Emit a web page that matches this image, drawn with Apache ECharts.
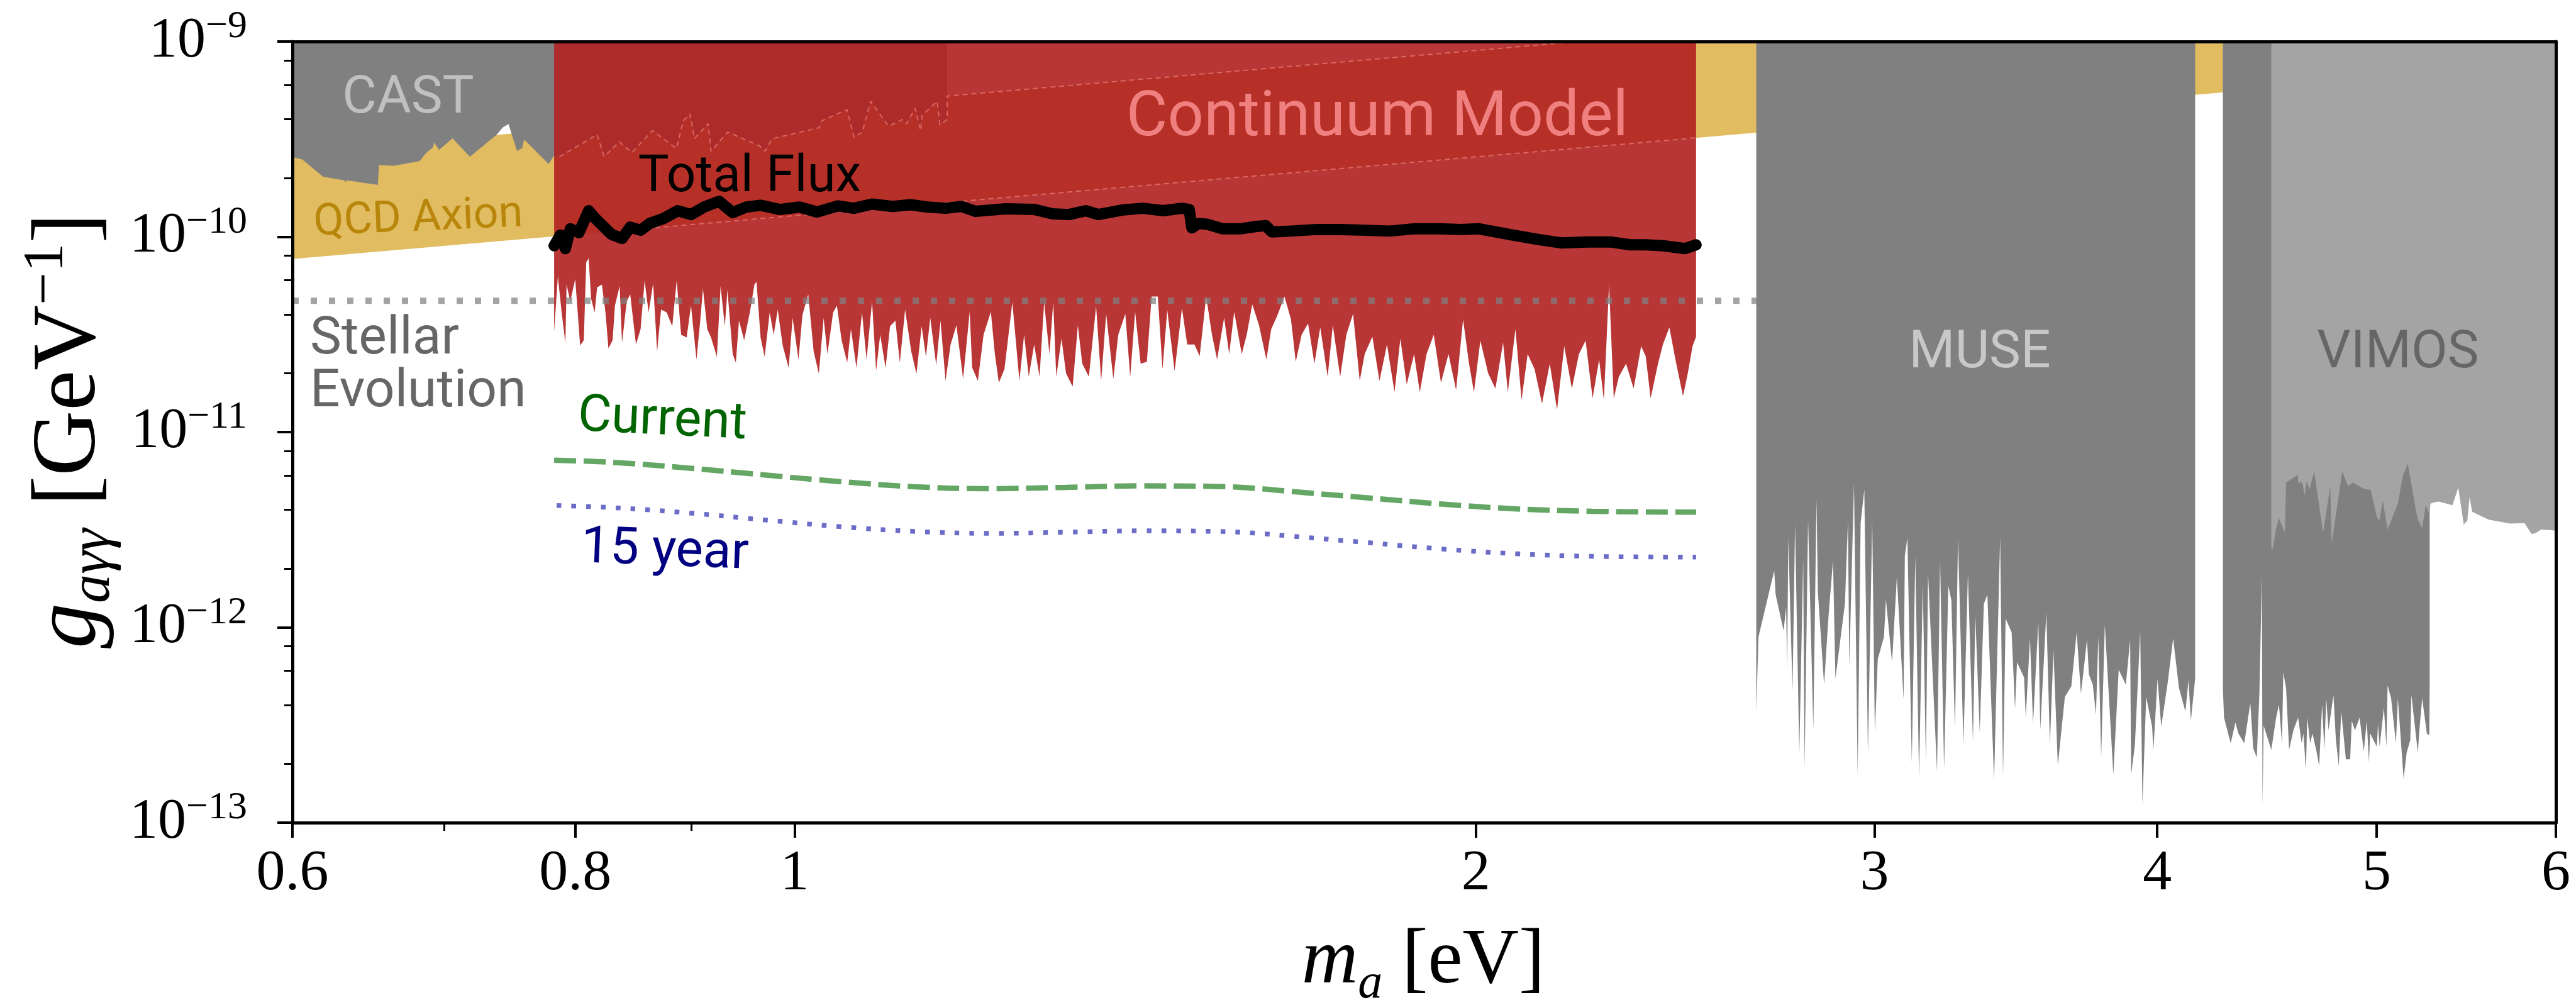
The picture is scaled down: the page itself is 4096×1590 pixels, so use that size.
<!DOCTYPE html>
<html>
<head>
<meta charset="utf-8">
<script src="https://cdn.jsdelivr.net/npm/echarts@6/dist/echarts.min.js"></script>
<style>
  html, body { margin: 0; padding: 0; background: #fff; }
  #chart { width: 4096px; height: 1590px; }
</style>
</head>
<body>
<div id="chart"></div>
<script>
// ---- axis ticks ----
const xTickLabels = [0.6, 0.8, 1, 2, 3, 4, 5, 6];
const xMinorTicks = [0.7, 0.9];
const yTickExps = [-13, -12, -11, -10, -9];
const yMinorMant = [2, 4, 6, 8];

// ---- QCD axion band edges [m (eV), g (GeV^-1)] ----
const qcdLower = [[0.6, 7.7e-11], [6, 7.7e-10]];
const qcdUpper = [[0.6, 2.7e-10], [6, 2.7e-9]];

// ---- CAST limit (excluded above) ----
const castLimit = [
  [0.600, 2.56e-10], [0.606, 2.49e-10], [0.619, 2.03e-10], [0.6325, 1.945e-10], [0.6334, 1.91e-10],
  [0.6342, 1.945e-10], [0.6545, 1.845e-10], [0.6552, 2.33e-10], [0.6655, 2.31e-10], [0.683, 2.445e-10],
  [0.6873, 2.68e-10], [0.6923, 2.88e-10], [0.693, 3.04e-10], [0.6966, 2.79e-10], [0.7061, 3.19e-10],
  [0.7187, 2.57e-10], [0.7385, 3.33e-10], [0.7431, 3.63e-10], [0.7475, 3.78e-10], [0.754, 2.75e-10],
  [0.758, 2.85e-10], [0.7595, 3.15e-10], [0.7786, 2.36e-10], [0.7827, 2.59e-10], [0.7873, 2.57e-10],
  [0.818, 3.34e-10], [0.8239, 2.57e-10], [0.8367, 3.07e-10], [0.8474, 2.70e-10], [0.8655, 3.50e-10],
  [0.8867, 2.83e-10], [0.8929, 3.93e-10], [0.8992, 4.26e-10], [0.9031, 3.18e-10], [0.9159, 3.80e-10],
  [0.9185, 2.74e-10], [0.9342, 3.44e-10], [0.965, 2.92e-10], [0.9704, 2.74e-10], [0.9774, 3.18e-10],
  [1.0254, 3.62e-10], [1.0283, 3.93e-10], [1.0548, 4.48e-10], [1.0623, 3.23e-10], [1.0713, 3.44e-10],
  [1.0804, 4.94e-10], [1.1004, 3.68e-10], [1.1161, 3.99e-10], [1.1209, 3.80e-10], [1.1304, 4.55e-10],
  [1.1369, 3.50e-10], [1.1385, 4.19e-10], [1.1562, 4.94e-10], [1.1594, 3.74e-10], [1.168, 3.99e-10]
];

// ---- Total-flux exclusion, lower edge (excluded above) ----
const fluxRegion = [
  [0.783, 3.26e-11], [0.786, 6.27e-11], [0.789, 4.10e-11], [0.792, 2.86e-11], [0.793, 5.69e-11],
  [0.796, 4.67e-11], [0.800, 6.07e-11], [0.804, 2.77e-11], [0.807, 2.95e-11], [0.809, 7.39e-11],
  [0.811, 7.76e-11], [0.813, 4.83e-11], [0.816, 4.10e-11], [0.818, 5.50e-11], [0.822, 5.69e-11],
  [0.825, 4.10e-11], [0.8275, 2.68e-11], [0.831, 2.95e-11], [0.833, 4.45e-11], [0.837, 5.60e-11],
  [0.839, 2.86e-11], [0.843, 4.67e-11], [0.846, 5.07e-11], [0.851, 2.81e-11], [0.855, 3.37e-11],
  [0.8585, 5.97e-11], [0.862, 4.10e-11], [0.866, 5.78e-11], [0.8695, 2.59e-11], [0.873, 4.24e-11],
  [0.878, 4.10e-11], [0.883, 3.48e-11], [0.887, 5.97e-11], [0.891, 3.15e-11], [0.896, 3.05e-11],
  [0.900, 4.45e-11], [0.905, 2.35e-11], [0.9085, 3.72e-11], [0.911, 5.41e-11], [0.915, 3.37e-11],
  [0.9185, 3.05e-11], [0.924, 2.43e-11], [0.9275, 5.60e-11], [0.9315, 3.48e-11], [0.934, 5.33e-11],
  [0.939, 2.51e-11], [0.942, 2.27e-11], [0.945, 3.72e-11], [0.950, 2.95e-11], [0.9555, 4.10e-11],
  [0.960, 5.69e-11], [0.962, 5.88e-11], [0.966, 3.05e-11], [0.970, 2.43e-11], [0.975, 4.10e-11],
  [0.979, 3.15e-11], [0.983, 4.24e-11], [0.988, 2.77e-11], [0.994, 2.13e-11], [0.998, 3.84e-11],
  [1.004, 2.35e-11], [1.008, 3.97e-11], [1.014, 5.07e-11], [1.0196, 2.59e-11], [1.025, 1.99e-11],
  [1.030, 3.84e-11], [1.034, 2.51e-11], [1.040, 4.10e-11], [1.044, 4.45e-11], [1.049, 2.95e-11],
  [1.055, 2.27e-11], [1.059, 3.37e-11], [1.065, 2.13e-11], [1.071, 4.10e-11], [1.076, 2.35e-11],
  [1.082, 4.67e-11], [1.0865, 2.06e-11], [1.091, 3.15e-11], [1.097, 2.13e-11], [1.102, 3.48e-11],
  [1.108, 3.72e-11], [1.113, 2.27e-11], [1.119, 4.24e-11], [1.126, 2.59e-11], [1.132, 1.99e-11],
  [1.138, 3.48e-11], [1.143, 2.43e-11], [1.148, 3.84e-11], [1.155, 2.20e-11], [1.160, 3.72e-11],
  [1.166, 1.83e-11], [1.172, 2.81e-11], [1.179, 3.52e-11], [1.187, 1.87e-11], [1.195, 4.13e-11],
  [1.198, 2.14e-11], [1.205, 1.83e-11], [1.212, 3.15e-11], [1.221, 4.13e-11], [1.226, 2.51e-11],
  [1.231, 1.79e-11], [1.238, 2.10e-11], [1.248, 4.62e-11], [1.257, 1.83e-11], [1.263, 3.15e-11],
  [1.269, 1.92e-11], [1.276, 2.81e-11], [1.283, 1.92e-11], [1.289, 4.62e-11], [1.296, 2.51e-11],
  [1.301, 4.62e-11], [1.305, 1.92e-11], [1.312, 3.01e-11], [1.318, 2.00e-11], [1.327, 1.71e-11],
  [1.334, 3.52e-11], [1.340, 2.24e-11], [1.349, 1.92e-11], [1.359, 4.41e-11], [1.366, 1.83e-11],
  [1.373, 4.03e-11], [1.383, 1.87e-11], [1.390, 3.15e-11], [1.400, 4.03e-11], [1.407, 1.92e-11],
  [1.414, 4.13e-11], [1.422, 2.24e-11], [1.431, 2.29e-11], [1.438, 4.94e-11], [1.447, 4.94e-11],
  [1.454, 2.10e-11], [1.461, 4.22e-11], [1.472, 2.05e-11], [1.483, 4.31e-11], [1.491, 2.81e-11],
  [1.502, 2.81e-11], [1.510, 2.45e-11], [1.520, 4.94e-11], [1.529, 3.15e-11], [1.537, 2.35e-11],
  [1.548, 3.85e-11], [1.556, 2.51e-11], [1.564, 4.13e-11], [1.576, 2.51e-11], [1.584, 3.15e-11],
  [1.593, 4.51e-11], [1.604, 3.52e-11], [1.616, 2.35e-11], [1.624, 3.37e-11], [1.634, 3.94e-11],
  [1.646, 4.94e-11], [1.657, 3.77e-11], [1.665, 2.29e-11], [1.675, 3.15e-11], [1.686, 3.60e-11],
  [1.697, 2.24e-11], [1.707, 3.44e-11], [1.720, 1.92e-11], [1.729, 3.52e-11], [1.742, 1.92e-11],
  [1.753, 3.15e-11], [1.765, 4.03e-11], [1.777, 1.83e-11], [1.786, 2.51e-11], [1.800, 3.08e-11],
  [1.813, 1.83e-11], [1.827, 2.81e-11], [1.841, 1.60e-11], [1.852, 3.01e-11], [1.864, 1.75e-11],
  [1.878, 2.51e-11], [1.889, 1.60e-11], [1.902, 2.51e-11], [1.916, 3.15e-11], [1.930, 1.79e-11],
  [1.945, 2.51e-11], [1.960, 1.64e-11], [1.974, 3.77e-11], [1.986, 2.24e-11], [1.996, 1.60e-11],
  [2.009, 2.94e-11], [2.025, 2.00e-11], [2.040, 1.67e-11], [2.056, 2.87e-11], [2.066, 1.60e-11],
  [2.082, 3.37e-11], [2.095, 1.46e-11], [2.108, 2.51e-11], [2.123, 2.10e-11], [2.139, 1.40e-11],
  [2.156, 2.24e-11], [2.172, 1.30e-11], [2.188, 2.75e-11], [2.205, 1.67e-11], [2.221, 2.51e-11],
  [2.236, 2.94e-11], [2.252, 1.49e-11], [2.267, 2.35e-11], [2.278, 1.46e-11], [2.290, 5.66e-11],
  [2.301, 1.49e-11], [2.313, 1.92e-11], [2.330, 2.24e-11], [2.348, 1.67e-11], [2.366, 2.75e-11],
  [2.377, 2.45e-11], [2.389, 1.49e-11], [2.407, 2.24e-11], [2.419, 2.81e-11], [2.435, 3.44e-11],
  [2.450, 2.35e-11], [2.469, 1.53e-11], [2.481, 2.00e-11], [2.493, 2.75e-11], [2.502, 3.08e-11]
];

// ---- Total flux limit line ----
const totalFlux = [
  [0.783, 9.0e-11], [0.788, 1.02e-10], [0.792, 8.7e-11], [0.796, 1.10e-10], [0.803, 1.05e-10],
  [0.811, 1.36e-10], [0.816, 1.25e-10], [0.822, 1.15e-10], [0.830, 1.03e-10], [0.839, 9.8e-11],
  [0.846, 1.12e-10], [0.855, 1.08e-10], [0.863, 1.17e-10], [0.875, 1.24e-10], [0.888, 1.36e-10],
  [0.900, 1.30e-10], [0.912, 1.42e-10], [0.926, 1.52e-10], [0.939, 1.33e-10], [0.952, 1.42e-10],
  [0.966, 1.45e-10], [0.985, 1.38e-10], [1.005, 1.42e-10], [1.023, 1.34e-10], [1.045, 1.44e-10],
  [1.062, 1.40e-10], [1.082, 1.47e-10], [1.105, 1.43e-10], [1.125, 1.46e-10], [1.145, 1.42e-10],
  [1.166, 1.40e-10], [1.185, 1.43e-10], [1.202, 1.35e-10], [1.240, 1.39e-10], [1.276, 1.38e-10],
  [1.300, 1.31e-10], [1.322, 1.30e-10], [1.345, 1.36e-10], [1.362, 1.30e-10], [1.395, 1.37e-10],
  [1.425, 1.40e-10], [1.455, 1.36e-10], [1.483, 1.40e-10], [1.494, 1.38e-10], [1.498, 1.11e-10],
  [1.508, 1.17e-10], [1.521, 1.16e-10], [1.545, 1.10e-10], [1.575, 1.10e-10], [1.600, 1.13e-10],
  [1.615, 1.14e-10], [1.625, 1.06e-10], [1.657, 1.07e-10], [1.700, 1.09e-10], [1.742, 1.09e-10],
  [1.790, 1.08e-10], [1.832, 1.07e-10], [1.880, 1.10e-10], [1.926, 1.10e-10], [1.970, 1.09e-10],
  [2.005, 1.10e-10], [2.040, 1.06e-10], [2.077, 1.02e-10], [2.130, 9.7e-11], [2.183, 9.3e-11],
  [2.240, 9.4e-11], [2.295, 9.4e-11], [2.340, 9.1e-11], [2.377, 9.1e-11], [2.420, 9.0e-11],
  [2.474, 8.7e-11], [2.502, 9.1e-11]
];

// ---- projected sensitivities ----
const currentReach = [
  [0.783, 7.18e-12], [0.832, 6.99e-12], [0.899, 6.53e-12], [0.970, 6.03e-12], [1.047, 5.58e-12],
  [1.130, 5.25e-12], [1.220, 5.13e-12], [1.317, 5.21e-12], [1.422, 5.30e-12], [1.536, 5.27e-12],
  [1.596, 5.16e-12], [1.658, 4.96e-12], [1.789, 4.61e-12], [1.932, 4.28e-12], [2.086, 4.04e-12],
  [2.252, 3.93e-12], [2.502, 3.89e-12]
];
const fifteenYear = [
  [0.785, 4.21e-12], [0.832, 4.10e-12], [0.899, 3.85e-12], [0.970, 3.55e-12], [1.047, 3.28e-12],
  [1.130, 3.10e-12], [1.220, 3.03e-12], [1.317, 3.07e-12], [1.422, 3.12e-12], [1.536, 3.10e-12],
  [1.596, 3.04e-12], [1.658, 2.93e-12], [1.789, 2.72e-12], [1.932, 2.52e-12], [2.086, 2.38e-12],
  [2.252, 2.31e-12], [2.502, 2.29e-12]
];

// ---- stellar evolution bound ----
const stellarBound = [[0.6, 4.7e-11], [2.661, 4.7e-11]];

// ---- MUSE limit (excluded above) ----
const museLimit = [
  [2.660, 3.70e-13], [2.666, 8.95e-13], [2.709, 1.95e-12], [2.713, 1.47e-12], [2.735, 9.6e-13],
  [2.742, 1.27e-12], [2.745, 6.07e-13], [2.748, 2.87e-12], [2.760, 4.74e-13], [2.767, 3.37e-12],
  [2.779, 2.25e-13], [2.790, 2.24e-12], [2.794, 1.89e-13], [2.804, 3.55e-12], [2.819, 2.99e-13],
  [2.828, 4.55e-12], [2.832, 1.52e-12], [2.850, 5.08e-13], [2.863, 1.15e-12], [2.876, 2.20e-12],
  [2.883, 5.45e-13], [2.911, 1.32e-12], [2.920, 3.49e-12], [2.924, 6.28e-13], [2.938, 5.43e-12],
  [2.949, 1.76e-13], [2.958, 3.43e-12], [2.969, 5.06e-12], [2.980, 2.25e-13], [2.993, 3.49e-12],
  [3.001, 2.89e-13], [3.010, 6.87e-13], [3.029, 8.95e-13], [3.035, 1.39e-12], [3.054, 6.63e-13],
  [3.069, 1.81e-12], [3.090, 4.26e-13], [3.094, 2.32e-12], [3.102, 2.87e-12], [3.116, 2.03e-13],
  [3.127, 2.32e-12], [3.139, 1.70e-13], [3.151, 1.66e-12], [3.161, 2.03e-13], [3.168, 1.88e-12],
  [3.197, 1.82e-13], [3.207, 2.20e-12], [3.220, 1.89e-13], [3.234, 1.63e-12], [3.244, 1.37e-12],
  [3.256, 2.99e-13], [3.266, 2.87e-12], [3.284, 2.51e-13], [3.299, 1.88e-12], [3.316, 2.60e-13],
  [3.324, 1.15e-12], [3.339, 2.89e-13], [3.353, 1.32e-12], [3.365, 1.47e-12], [3.388, 1.64e-13],
  [3.409, 2.87e-12], [3.419, 1.70e-13], [3.428, 1.11e-12], [3.449, 9.43e-13], [3.461, 3.83e-13],
  [3.468, 6.63e-13], [3.493, 5.55e-13], [3.499, 3.45e-13], [3.514, 8.79e-13], [3.525, 3.21e-13],
  [3.544, 1.07e-12], [3.551, 2.99e-13], [3.573, 1.19e-12], [3.586, 2.51e-13], [3.599, 7.63e-13],
  [3.615, 1.96e-13], [3.641, 4.41e-13], [3.665, 4.99e-13], [3.685, 9.43e-13], [3.701, 4.57e-13],
  [3.724, 8.64e-13], [3.731, 5.75e-13], [3.746, 5.08e-13], [3.758, 3.57e-13], [3.767, 8.95e-13],
  [3.778, 2.18e-13], [3.792, 1.03e-12], [3.825, 1.76e-13], [3.846, 6.07e-13], [3.874, 5.08e-13],
  [3.891, 8.64e-13], [3.895, 1.76e-13], [3.910, 2.51e-13], [3.931, 9.60e-13], [3.940, 1.24e-13],
  [3.955, 4.41e-13], [3.979, 3.10e-13], [3.984, 2.34e-13], [4.001, 5.45e-13], [4.016, 3.10e-13],
  [4.043, 5.27e-13], [4.065, 8.79e-13], [4.089, 4.91e-13], [4.116, 3.70e-13], [4.129, 5.36e-13],
  [4.139, 3.33e-13], [4.157, 5.45e-13]
];

// ---- VIMOS limits (excluded above) ----
const vimosDeep = [
  [4.276, 4.86e-13], [4.281, 3.45e-13], [4.310, 2.55e-13], [4.331, 3.26e-13], [4.344, 2.86e-13],
  [4.370, 2.55e-13], [4.397, 4.09e-13], [4.410, 2.41e-13], [4.426, 2.15e-13], [4.438, 4.68e-13],
  [4.449, 1.83e-12], [4.452, 1.22e-13], [4.457, 3.14e-13], [4.492, 2.36e-13], [4.514, 3.45e-13],
  [4.527, 4.02e-13], [4.541, 2.55e-13], [4.547, 5.87e-13], [4.560, 4.86e-13], [4.574, 2.36e-13],
  [4.594, 2.97e-13], [4.616, 3.45e-13], [4.633, 2.55e-13], [4.641, 2.86e-13], [4.653, 1.85e-13],
  [4.659, 3.45e-13], [4.673, 2.55e-13], [4.684, 2.86e-13], [4.703, 2.32e-13], [4.716, 1.95e-13],
  [4.730, 4.02e-13], [4.741, 2.36e-13], [4.750, 4.33e-13], [4.761, 2.97e-13], [4.785, 4.50e-13],
  [4.797, 2.65e-13], [4.811, 1.95e-13], [4.823, 3.72e-13], [4.846, 2.11e-13], [4.867, 2.11e-13],
  [4.875, 3.32e-13], [4.891, 2.97e-13], [4.914, 3.45e-13], [4.935, 2.32e-13], [4.950, 3.32e-13],
  [4.961, 2.03e-13], [4.967, 2.86e-13], [5.001, 2.45e-13], [5.007, 3.20e-13], [5.015, 2.45e-13],
  [5.037, 3.87e-13], [5.050, 2.45e-13], [5.056, 5.04e-13], [5.074, 4.33e-13], [5.099, 2.55e-13],
  [5.109, 4.33e-13], [5.139, 1.68e-13], [5.155, 2.28e-13], [5.174, 2.65e-13], [5.180, 4.50e-13],
  [5.214, 2.28e-13], [5.222, 2.97e-13], [5.237, 4.33e-13], [5.262, 2.86e-13], [5.275, 2.80e-13],
  [5.277, 4.86e-13]
];
const vimosWide = [
  [4.492, 2.53e-12], [4.499, 2.53e-12], [4.514, 3.23e-12], [4.527, 3.62e-12], [4.554, 3.05e-12],
  [4.560, 5.50e-12], [4.614, 6.05e-12], [4.618, 5.40e-12], [4.627, 5.61e-12], [4.638, 5.40e-12],
  [4.646, 4.73e-12], [4.657, 5.61e-12], [4.670, 5.10e-12], [4.692, 6.28e-12], [4.735, 3.05e-12],
  [4.770, 5.29e-12], [4.776, 2.68e-12], [4.828, 6.28e-12], [4.857, 5.29e-12], [4.881, 5.50e-12],
  [4.940, 5.10e-12], [4.970, 5.06e-12], [5.001, 3.69e-12], [5.013, 3.49e-12], [5.031, 4.46e-12],
  [5.056, 3.17e-12], [5.109, 4.30e-12], [5.134, 5.93e-12], [5.161, 6.90e-12], [5.205, 3.91e-12],
  [5.218, 3.49e-12], [5.237, 3.23e-12], [5.256, 4.22e-12], [5.277, 3.76e-12], [5.281, 4.30e-12],
  [5.307, 4.38e-12], [5.326, 4.41e-12], [5.401, 4.22e-12], [5.433, 5.20e-12], [5.463, 3.36e-12],
  [5.483, 3.52e-12], [5.496, 4.64e-12], [5.510, 3.91e-12], [5.604, 3.56e-12], [5.727, 3.40e-12],
  [5.811, 3.42e-12], [5.854, 3.00e-12], [5.882, 3.05e-12], [5.910, 3.17e-12], [5.982, 3.14e-12],
  [6.0, 3.11e-12]
];

// ---- helpers ----
const lg = (v) => Math.log10(v);
const toXY = (pts) => pts.map((p) => [lg(p[0]), lg(p[1])]);
const SERIF = '"Liberation Serif", "DejaVu Serif", serif';
const SANS = 'Roboto, "Open Sans", sans-serif';

function areaUp(name, pts, color) {
  return {
    type: 'line', name: name, data: toXY(pts), symbol: 'none', silent: true,
    lineStyle: { width: 0 },
    areaStyle: { color: color, opacity: 1, origin: 'end' }
  };
}
function curve(name, pts, style, smooth) {
  return {
    type: 'line', name: name, data: toXY(pts), symbol: 'none', silent: true,
    smooth: smooth || false, lineStyle: style
  };
}
function label(text, x, y, size, color, extra) {
  const el = {
    type: 'text', x: x, y: y, z: 100,
    style: { text: text, font: size + 'px ' + SANS, fill: color, textAlign: 'center', textVerticalAlign: 'middle' }
  };
  if (extra && extra.rotation) el.rotation = extra.rotation;
  if (extra && extra.align) el.style.textAlign = extra.align;
  return el;
}

// continuum model outline: CAST edge inside the red region, then upper band edge
const contUpper = castLimit.filter((p) => p[0] >= 0.783)
  .concat([[1.168, 1.168 * 4.5e-10], [2.502, 2.502 * 4.5e-10]]);
const contLower = [[0.86, 0.86 * 1.283e-10], [2.502, 2.502 * 1.283e-10]];

const yMinor = [];
yTickExps.slice(0, -1).forEach((e) => yMinorMant.forEach((m) => yMinor.push(e + lg(m))));

const chart = echarts.init(document.getElementById('chart'));

const xBase = { type: 'value', min: lg(0.6), max: lg(6), gridIndex: 0, z: 10, splitLine: { show: false } };
const yBase = { type: 'value', min: -13, max: -9, gridIndex: 0, z: 10, splitLine: { show: false } };
const spine = { show: true, onZero: false, lineStyle: { color: '#000', width: 5 } };

const option = {
  animation: false,
  backgroundColor: '#fff',
  grid: { left: 465, right: 32, top: 66, height: 1242, containLabel: false },
  xAxis: [
    Object.assign({}, xBase, {
      position: 'bottom',
      axisLine: spine,
      axisTick: { show: true, length: 24, lineStyle: { color: '#000', width: 4 }, customValues: xTickLabels.map(lg) },
      axisLabel: {
        show: true, customValues: xTickLabels.map(lg), margin: 36,
        fontFamily: SERIF, fontSize: 92, color: '#000',
        formatter: (v) => String(parseFloat(Math.pow(10, v).toFixed(2)))
      }
    }),
    Object.assign({}, xBase, {
      position: 'bottom',
      axisLine: { show: false, onZero: false },
      axisTick: { show: true, length: 13, lineStyle: { color: '#000', width: 3 }, customValues: xMinorTicks.map(lg) },
      axisLabel: { show: false }
    }),
    Object.assign({}, xBase, {
      position: 'top',
      axisLine: spine,
      axisTick: { show: false }, axisLabel: { show: false }
    })
  ],
  yAxis: [
    Object.assign({}, yBase, {
      position: 'left',
      axisLine: spine,
      axisTick: { show: true, length: 24, lineStyle: { color: '#000', width: 4 }, customValues: yTickExps },
      axisLabel: {
        show: true, customValues: yTickExps, margin: 72,
        formatter: (v) => '{b|10}{s|\u2212' + Math.abs(Math.round(v)) + '}',
        rich: {
          b: { fontFamily: SERIF, fontSize: 90, color: '#000', lineHeight: 108 },
          s: { fontFamily: SERIF, fontSize: 62, color: '#000', lineHeight: 60, verticalAlign: 'top' }
        }
      }
    }),
    Object.assign({}, yBase, {
      position: 'left',
      axisLine: { show: false, onZero: false },
      axisTick: { show: true, length: 13, lineStyle: { color: '#000', width: 3 }, customValues: yMinor },
      axisLabel: { show: false }
    }),
    Object.assign({}, yBase, {
      position: 'right',
      axisLine: spine,
      axisTick: { show: false }, axisLabel: { show: false }
    })
  ],
  series: [
    areaUp('QCD band', qcdLower, '#E1BC60'),
    areaUp('above QCD band', qcdUpper, '#FFFFFF'),
    areaUp('CAST', castLimit, '#808080'),
    areaUp('Total flux region', fluxRegion, 'rgba(178,34,34,0.91)'),
    curve('Continuum upper', contUpper, { color: 'rgba(244,150,150,0.55)', width: 2, type: [8, 6] }),
    curve('Continuum lower', contLower, { color: 'rgba(244,150,150,0.55)', width: 2, type: [8, 6] }),
    areaUp('MUSE', museLimit, '#808080'),
    areaUp('VIMOS deep', vimosDeep, '#808080'),
    areaUp('VIMOS', vimosWide, '#A4A4A4'),
    curve('Stellar Evolution', stellarBound, { color: 'rgba(128,128,128,0.72)', width: 10, type: [10, 19], cap: 'butt' }),
    curve('Current', currentReach, { color: '#64A664', width: 8.5, type: [35, 12], cap: 'butt' }, 0.4),
    curve('15 year', fifteenYear, { color: '#6B6BC8', width: 7.5, type: [7.5, 16], cap: 'butt' }, 0.4),
    curve('Total Flux', totalFlux, { color: '#000', width: 18, join: 'round', cap: 'round' })
  ],
  graphic: [
    label('CAST', 649, 158, 84, '#C0C0C0'),
    label('QCD Axion', 665, 349, 70, '#B8860B', { rotation: 0.043 }),
    label('Stellar', 493, 541, 84, '#666666', { align: 'left' }),
    label('Evolution', 493, 625, 84, '#666666', { align: 'left' }),
    label('Continuum Model', 2190, 190, 101, '#F08080'),
    label('Total Flux', 1192, 283, 82, '#000000'),
    label('Current', 1053, 670, 82, '#006400', { rotation: -0.05 }),
    label('15 year', 1057, 878, 82, '#000080', { rotation: -0.04 }),
    label('MUSE', 3148, 563, 84, '#C8C8C8'),
    label('VIMOS', 3813, 563, 84, '#666666'),
    {
      type: 'text', x: 2263, y: 1529, z: 100,
      style: {
        text: '{i|m}{s|a}{r| [eV]}', textAlign: 'center', textVerticalAlign: 'middle',
        rich: {
          i: { fontFamily: SERIF, fontStyle: 'italic', fontSize: 124, lineHeight: 150, fill: '#000' },
          s: { fontFamily: SERIF, fontStyle: 'italic', fontSize: 78, lineHeight: 92, verticalAlign: 'bottom', fill: '#000' },
          r: { fontFamily: SERIF, fontSize: 124, lineHeight: 150, fill: '#000' }
        }
      }
    },
    {
      type: 'text', x: 112, y: 685, z: 100, rotation: Math.PI / 2,
      style: {
        text: '{i|g}{s|a\u03B3\u03B3}{r| [GeV}{p|\u22121}{r|]}', textAlign: 'center', textVerticalAlign: 'middle',
        rich: {
          i: { fontFamily: SERIF, fontStyle: 'italic', fontSize: 144, lineHeight: 166, fill: '#000' },
          s: { fontFamily: SERIF, fontStyle: 'italic', fontSize: 92, lineHeight: 104, verticalAlign: 'bottom', fill: '#000' },
          r: { fontFamily: SERIF, fontSize: 144, lineHeight: 166, fill: '#000' },
          p: { fontFamily: SERIF, fontSize: 92, lineHeight: 98, verticalAlign: 'top', fill: '#000' }
        }
      }
    }
  ]
};
chart.setOption(option);
</script>
</body>
</html>
